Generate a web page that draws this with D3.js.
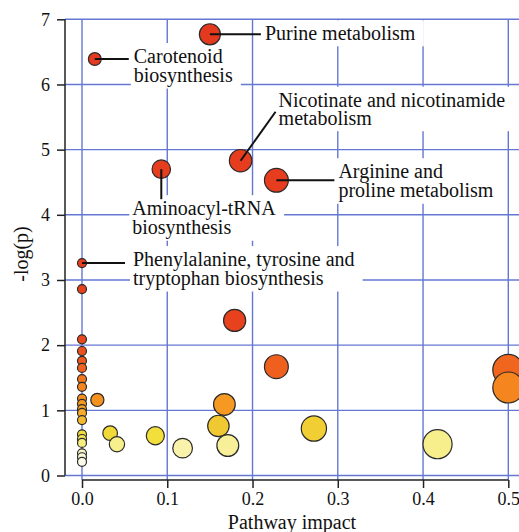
<!DOCTYPE html>
<html>
<head>
<meta charset="utf-8">
<style>
  body { margin: 0; background: #fff; }
  text { font-family: "Liberation Serif", "Times New Roman", serif; fill: #111; }
</style>
</head>
<body>
<script src="https://d3js.org/d3.v7.min.js"></script>
<script>
  // pathway impact and -log(p) for every pathway (first six are the labelled ones)
  const impact = [0.150, 0.015, 0.186, 0.228, 0.093, 0.0,
    0.0, 0.0, 0.0, 0.0, 0.0, 0.0, 0.0, 0.0, 0.0, 0.0, 0.0, 0.0, 0.0, 0.0, 0.0, 0.0, 0.0, 0.0,
    0.179, 0.228, 0.5, 0.5, 0.018, 0.167, 0.160, 0.171, 0.033, 0.041, 0.086, 0.118, 0.272, 0.417]
  const logp = [6.77, 6.39, 4.83, 4.53, 4.70, 3.26,
    2.86, 2.09, 1.91, 1.76, 1.65, 1.48, 1.36, 1.18, 1.10, 1.02, 0.96, 0.85, 0.63, 0.56, 0.50, 0.34, 0.28, 0.21,
    2.38, 1.67, 1.62, 1.35, 1.16, 1.09, 0.76, 0.46, 0.65, 0.48, 0.61, 0.42, 0.72, 0.48]

  const labelLines = [
    ["Purine metabolism"],
    ["Carotenoid", "biosynthesis"],
    ["Nicotinate and nicotinamide", "metabolism"],
    ["Arginine and", "proline metabolism"],
    ["Aminoacyl-tRNA", "biosynthesis"],
    ["Phenylalanine, tyrosine and", "tryptophan biosynthesis"]
  ]

  const xTicks = [0, 0.1, 0.2, 0.3, 0.4, 0.5]
  const yTicks = [0, 1, 2, 3, 4, 5, 6, 7]

  // label placement, offsets from the point (text start / leader end)
  const labelPos = [
    { tx: 55, ty: 6, lx: 51, ly: 0 },
    { tx: 39, ty: 4, lx: 34, ly: 0 },
    { tx: 38, ty: -54, lx: 35, ly: -49 },
    { tx: 62, ty: -2, lx: 58, ly: 0 },
    { tx: -29, ty: 46, lx: 0, ly: 30 },
    { tx: 51, ty: 3, lx: 43, ly: 0 }
  ]

  const W = 519, H = 532
  const svg = d3.select('body').append('svg')
    .attr('width', W).attr('height', H)

  const x = d3.scaleLinear().domain([0, 0.5]).range([82, 508.3])
  const y = d3.scaleLinear().domain([0, 7]).range([475.5, 19.3])
  const axisX = 65, axisY = 480

  const r = d3.scaleSqrt().domain([0, 0.5]).range([4.5, 15.5])
  const color = d3.scaleLinear()
    .domain([0.2, 0.33, 0.45, 0.6, 0.75, 0.95, 1.15, 1.4, 1.7, 2.2, 7])
    .range(['#fdfcec', '#faf6cc', '#f8f1a0', '#f2e13c', '#f0c932', '#f5ab2c',
      '#f5921f', '#f4821f', '#ee5c1f', '#e8411d', '#e3391f'])

  // grid
  const grid = svg.append('g').attr('stroke', '#6477d3').attr('stroke-width', 1.4)
  grid.selectAll('.v').data(xTicks).enter().append('line')
    .attr('x1', d => x(d)).attr('x2', d => x(d))
    .attr('y1', y(7)).attr('y2', axisY)
  grid.selectAll('.h').data(yTicks).enter().append('line')
    .attr('x1', axisX).attr('x2', W)
    .attr('y1', d => y(d)).attr('y2', d => y(d))

  // axes, R style: line spans first to last tick
  const yAxis = svg.append('g')
    .attr('transform', `translate(${axisX},0)`)
    .call(d3.axisLeft(y).tickValues(yTicks).tickSize(8).tickPadding(7).tickFormat(d3.format('d')))
  const xAxis = svg.append('g')
    .attr('transform', `translate(0,${axisY})`)
    .call(d3.axisBottom(x).tickValues(xTicks).tickSize(8).tickPadding(4).tickFormat(d3.format('.1f')))
  yAxis.select('.domain').attr('d', `M0,${y(0)}V${y(7)}`)
  xAxis.select('.domain').attr('d', `M${x(0)},0H${x(0.5)}`)
  svg.selectAll('.domain, .tick line').attr('stroke', '#222').attr('stroke-width', 1.5)
  svg.selectAll('.tick text').attr('font-size', 18).attr('fill', '#111')
    .attr('font-family', '"Liberation Serif", "Times New Roman", serif')

  svg.append('text').attr('x', 292).attr('y', 529)
    .attr('text-anchor', 'middle').attr('font-size', 20).text('Pathway impact')
  svg.append('text').attr('transform', 'translate(28,254) rotate(-90)')
    .attr('text-anchor', 'middle').attr('font-size', 20).text('-log(p)')

  // labels (white boxes hide the grid behind them)
  const boxes = svg.append('g')
  const pts = impact.map((d, i) => ({ impact: d, logp: logp[i], i }))

  const circles = svg.append('g')
  circles.selectAll('circle')
    .data(pts.slice().sort((a, b) => b.logp - a.logp))
    .enter().append('circle')
    .attr('cx', d => x(d.impact))
    .attr('cy', d => y(d.logp))
    .attr('r', d => r(d.impact))
    .attr('fill', d => color(d.logp))
    .attr('stroke', '#2a2a2a')
    .attr('stroke-width', 1.2)

  const lab = svg.append('g')
  labelLines.forEach((lines, i) => {
    const px = x(impact[i]), py = y(logp[i])
    const p = labelPos[i]
    lab.append('line')
      .attr('x1', px).attr('y1', py)
      .attr('x2', px + p.lx).attr('y2', py + p.ly)
      .attr('stroke', '#111').attr('stroke-width', 2)
    const t = lab.append('text').attr('font-size', 20)
    lines.forEach((s, k) => {
      t.append('tspan').attr('x', px + p.tx).attr('y', py + p.ty + k * 18.5).text(s)
    })
    const b = t.node().getBBox()
    boxes.append('rect')
      .attr('x', b.x - 3).attr('y', b.y - 2)
      .attr('width', b.width + 11).attr('height', b.height + 4)
      .attr('fill', '#fff')
  })
</script>
</body>
</html>
